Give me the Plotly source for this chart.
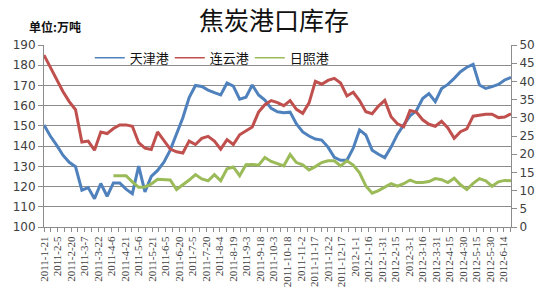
import pandas as pd
import plotly.graph_objects as go

# weekly dates starting 2011-1-21
start_date = "2011-01-21"
n_points = 75
dates = pd.date_range(start_date, periods=n_points, freq="7D")

tianjin = [150.4, 145, 140.5, 135.5, 132, 129.8, 118.2, 119.5, 114, 121.5,
           115.2, 121.8, 121.8, 118.7, 116.5, 130.1, 117.4, 125, 128, 132,
           138, 146, 154, 164, 170, 169.5, 167.7, 166.4, 165.3, 171.2,
           169.7, 163.2, 164.2, 170.2, 165.3, 162.8, 158.7, 157, 156.5, 156.8,
           151, 147, 145, 143.5, 143, 139.5, 134.5, 133, 133, 139,
           148, 145.5, 138, 136, 134.3, 139.5, 145.8, 150.5, 155, 157.5,
           163.5, 166, 162, 168.5, 170.5, 173.5, 176.8, 179, 180.4, 170.2,
           168.5, 169.4, 170.5, 172.7, 174]

lianyun = [185, 179, 173, 167, 162, 158, 142, 142.5, 138, 147,
           146.2, 148.7, 150.5, 150.5, 149.8, 141.7, 139, 138.3, 147, 143,
           138.5, 137.2, 136.6, 142.5, 140.8, 143.8, 144.8, 142.5, 138.5, 143.2,
           140.8, 145.6, 147.5, 149.5, 156.8, 160.5, 162.5, 161.5, 160, 162.5,
           158.2, 156.2, 161.4, 172, 170.6, 172.5, 173.5, 171.2, 164.8, 166.6,
           162.5, 157, 156, 159.8, 162.6, 154.5, 151, 149.6, 157.6, 156.8,
           153, 150.8, 149.8, 152.3, 149, 143.9, 147.1, 148.5, 154.8, 155.3,
           155.7, 155.8, 154.1, 154.4, 156]

rizhao = [None] * 11 + [
           14.1, 14.1, 14.1, 12.4, 10.9, 11.0, 11.8, 13.1, 13.1,
           12.9, 10.3, 11.5, 12.9, 14.4, 13.2, 12.7, 14.4, 12.7, 16.0,
           16.5, 14.1, 17.1, 17.2, 17.0, 19.1, 18.0, 17.3, 16.8, 19.9,
           17.7, 17.1, 15.7, 16.6, 17.7, 18.2, 18.2, 16.8, 18.2, 17.0,
           14.9, 11.3, 9.3, 10.0, 11.0, 11.9, 11.2, 11.9, 12.9, 12.2,
           12.2, 12.5, 13.3, 13.0, 12.2, 13.4, 11.6, 10.3, 12.0, 13.3,
           12.7, 11.2, 12.4, 12.8, 12.7]

series_names = ["天津港", "连云港", "日照港"]
series_colors = ["#4F81BD", "#C0504D", "#9BBB59"]

tick_labels = ["2011-1-21", "2011-2-5", "2011-2-20", "2011-3-7", "2011-3-22",
               "2011-4-6", "2011-4-21", "2011-5-6", "2011-5-21", "2011-6-5",
               "2011-6-20", "2011-7-5", "2011-7-20", "2011-8-4", "2011-8-19",
               "2011-9-3", "2011-9-18", "2011-10-3", "2011-10-18", "2011-11-2",
               "2011-11-17", "2011-12-2", "2011-12-17", "2012-1-1", "2012-1-16",
               "2012-1-31", "2012-2-15", "2012-3-1", "2012-3-16", "2012-3-31",
               "2012-4-15", "2012-4-30", "2012-5-15", "2012-5-30", "2012-6-14"]
tick_vals = [pd.to_datetime(t) for t in tick_labels]

title_text = "焦炭港口库存"
unit_text = "单位:万吨"

grid_c = "#8C8C8C"
label_c = "#404040"
cjk = "Noto Sans CJK SC"

fig = go.Figure()
for name, vals, col, ax in zip(series_names, [tianjin, lianyun, rizhao], series_colors, ["y", "y", "y2"]):
    fig.add_trace(go.Scatter(x=dates, y=vals, name=name, mode="lines",
                             line=dict(color=col, width=3), yaxis=ax,
                             connectgaps=False, showlegend=False))
# legend entries (thin line samples, as in the original legend)
for name, col in zip(series_names, series_colors):
    fig.add_trace(go.Scatter(x=[dates[0]], y=[None], name=name, mode="lines",
                             line=dict(color=col, width=1.5), showlegend=True))

fig.update_layout(
    width=550, height=300,
    margin=dict(l=44, r=39, t=45, b=73),
    paper_bgcolor="white", plot_bgcolor="white",
    title=dict(text=title_text, x=0.498, xanchor="center", y=0.93, yanchor="middle",
               font=dict(family=cjk, size=25, color="#111")),
    showlegend=True,
    legend=dict(orientation="h", x=0.098, xanchor="left", y=0.929, yanchor="middle",
                font=dict(family=cjk, size=13, color="#111"),
                bgcolor="rgba(0,0,0,0)", entrywidth=35, itemwidth=30),
    xaxis=dict(type="date", range=[dates[0], dates[-1]],
               tickmode="array", tickvals=tick_vals, ticktext=tick_labels,
               tickangle=-90, ticks="outside", ticklen=4, tickcolor=grid_c,
               showline=True, linecolor=grid_c, linewidth=1, showgrid=False,
               tickfont=dict(family="Liberation Serif", size=11, color=label_c),
               minor=dict(ticks="outside", ticklen=4, tickcolor=grid_c,
                          tickmode="linear", tick0=start_date, dtick=7.5 * 86400000,
                          showgrid=False)),
    yaxis=dict(range=[100, 190], dtick=10, tick0=100, showgrid=True, gridcolor=grid_c,
               gridwidth=1, showline=True, linecolor=grid_c, ticks="outside",
               ticklen=5, tickcolor=grid_c, zeroline=False,
               tickfont=dict(family="DejaVu Sans", size=12, color=label_c)),
    yaxis2=dict(range=[0, 50], dtick=5, tick0=0, overlaying="y", side="right",
                showgrid=False, showline=True, linecolor=grid_c, ticks="outside",
                ticklen=5, tickcolor=grid_c, zeroline=False,
                tickfont=dict(family="DejaVu Sans", size=12, color=label_c)),
)

fig.add_annotation(text="<b>" + unit_text + "</b>", xref="paper", yref="paper",
                   x=-0.036, y=1.1, xanchor="left", yanchor="middle", showarrow=False,
                   font=dict(family=cjk, size=12, color="#111"))

fig.write_html("out.html")
